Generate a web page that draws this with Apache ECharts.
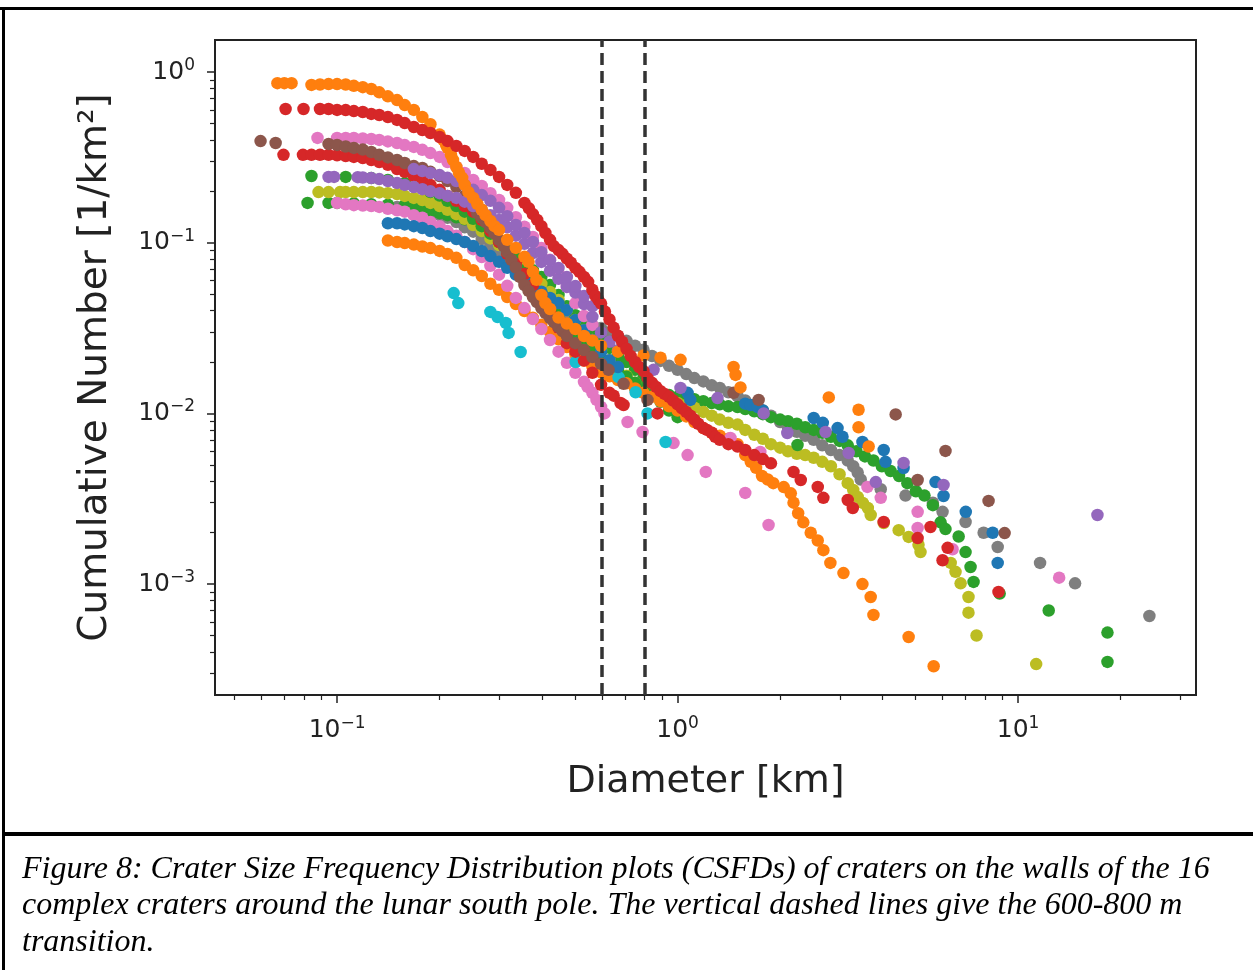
<!DOCTYPE html>
<html>
<head>
<meta charset="utf-8">
<script src="https://cdn.jsdelivr.net/npm/echarts@6/dist/echarts.min.js"></script>
<style>
  html, body { margin: 0; padding: 0; background: #fff; }
  #chart { width: 1253px; height: 970px; }
</style>
</head>
<body>
<div id="chart"></div>
<script>
// axis ranges and ticks (km, 1/km^2)
const xMin = 0.0438, xMax = 33.3;
const yMin = 0.000224, yMax = 1.54;
const xMajor = [0.1, 1, 10];
const xMinor = [0.05, 0.06, 0.07, 0.08, 0.09, 0.2, 0.3, 0.4, 0.5, 0.6, 0.7, 0.8, 0.9,
  2, 3, 4, 5, 6, 7, 8, 9, 20, 30];
const yMajor = [0.001, 0.01, 0.1, 1];
const yMinor = [0.0003, 0.0004, 0.0005, 0.0006, 0.0007, 0.0008, 0.0009,
  0.002, 0.003, 0.004, 0.005, 0.006, 0.007, 0.008, 0.009,
  0.02, 0.03, 0.04, 0.05, 0.06, 0.07, 0.08, 0.09,
  0.2, 0.3, 0.4, 0.5, 0.6, 0.7, 0.8, 0.9];
const transitionKm = [0.6, 0.8];

// CSFD points [diameter km, cumulative number 1/km^2]
const orangeA = [[0.0668,0.86],[0.0700,0.86],[0.0735,0.86],[0.0841,0.84],[0.0891,0.845],[0.0944,0.85],[0.100,0.85],[0.106,0.845],[0.112,0.83],[0.119,0.815],[0.126,0.795],[0.133,0.76],[0.141,0.72],[0.150,0.685],[0.158,0.64],[0.168,0.60],[0.178,0.545],[0.188,0.495],[0.200,0.43],[0.205,0.40],[0.209,0.373],[0.211,0.36],[0.216,0.327],[0.219,0.305],[0.224,0.278],[0.228,0.257],[0.233,0.24],[0.237,0.218],[0.243,0.198],[0.251,0.183],[0.258,0.169],[0.266,0.156],[0.273,0.145],[0.282,0.134],[0.290,0.125],[0.299,0.119],[0.316,0.104],[0.335,0.0932],[0.355,0.0826],[0.365,0.0773],[0.376,0.0675],[0.385,0.0606],[0.398,0.0494],[0.409,0.0443],[0.422,0.0409],[0.447,0.0364],[0.473,0.0336],[0.501,0.0312],[0.531,0.0284],[0.562,0.0267],[0.596,0.0249],[0.668,0.0230],[0.794,0.0218],[0.891,0.0212],[1.02,0.0206],[1.46,0.0187],[1.48,0.0168],[1.53,0.0142],[2.78,0.0124],[3.40,0.0105],[3.40,0.0083],[3.64,0.0064]];
const orangeB = [[0.141,0.103],[0.150,0.101],[0.158,0.0995],[0.168,0.0975],[0.178,0.095],[0.188,0.093],[0.200,0.0895],[0.211,0.086],[0.224,0.0815],[0.237,0.074],[0.251,0.069],[0.266,0.0638],[0.282,0.0575],[0.299,0.053],[0.316,0.0481],[0.335,0.0437],[0.355,0.0398],[0.376,0.0363],[0.398,0.0331],[0.422,0.030],[0.447,0.0272],[0.473,0.0245],[0.501,0.0221],[0.531,0.0204],[0.562,0.0189],[0.596,0.0174],[0.631,0.0165],[0.668,0.0157],[0.708,0.015],[0.750,0.014],[0.794,0.0132],[0.841,0.0125],[0.891,0.0118],[0.944,0.011],[1.00,0.0104],[1.06,0.0096],[1.12,0.0089],[1.19,0.0082],[1.26,0.0077],[1.33,0.0074],[1.41,0.0071],[1.50,0.0066],[1.58,0.0057],[1.64,0.0052],[1.70,0.0048],[1.77,0.0043],[1.84,0.0041],[1.91,0.0039],[2.05,0.0037],[2.15,0.0034],[2.19,0.0030],[2.26,0.0026],[2.34,0.0023],[2.46,0.0020],[2.58,0.0018],[2.68,0.00158],[2.81,0.00133],[3.07,0.00116],[3.49,0.0010],[3.69,0.00084],[3.76,0.00066],[4.77,0.00049],[5.65,0.00033]];
const redA = [[0.0706,0.607],[0.0797,0.607],[0.0891,0.607],[0.0944,0.607],[0.100,0.60],[0.106,0.598],[0.112,0.59],[0.119,0.583],[0.126,0.568],[0.133,0.56],[0.141,0.545],[0.150,0.524],[0.158,0.502],[0.168,0.476],[0.178,0.457],[0.188,0.439],[0.200,0.416],[0.211,0.394],[0.224,0.369],[0.237,0.345],[0.251,0.318],[0.266,0.29],[0.282,0.267],[0.299,0.243],[0.316,0.218],[0.335,0.196],[0.355,0.171],[0.366,0.159],[0.376,0.147],[0.387,0.136],[0.398,0.125],[0.409,0.114],[0.422,0.104],[0.433,0.0955],[0.447,0.0905],[0.459,0.0861],[0.473,0.0806],[0.486,0.0763],[0.501,0.0712],[0.515,0.0675],[0.531,0.063],[0.546,0.059],[0.562,0.053],[0.574,0.0487],[0.585,0.0463],[0.596,0.044],[0.612,0.0395],[0.631,0.0355],[0.649,0.0318],[0.668,0.0285],[0.687,0.0263],[0.708,0.0239],[0.728,0.0217],[0.750,0.020],[0.771,0.0187],[0.794,0.0177],[0.816,0.0161],[0.841,0.0151],[0.865,0.0143],[0.891,0.0135],[0.916,0.013],[0.944,0.0125],[0.970,0.0119],[1.00,0.0113],[1.03,0.0107],[1.06,0.0102],[1.09,0.0097],[1.12,0.0092],[1.15,0.0087],[1.19,0.0082],[1.22,0.008],[1.26,0.0077],[1.29,0.0073],[1.33,0.007],[1.41,0.0066],[1.50,0.0064],[1.58,0.0061],[1.68,0.0057],[1.78,0.0054],[1.88,0.0051],[2.19,0.00454],[2.30,0.00407],[2.68,0.0032],[3.27,0.00279],[4.03,0.00231],[5.07,0.00186],[6.00,0.00138],[8.76,0.0009]];
const redB = [[0.0696,0.327],[0.0794,0.327],[0.0841,0.327],[0.0891,0.327],[0.0944,0.327],[0.100,0.325],[0.106,0.322],[0.112,0.318],[0.119,0.313],[0.126,0.305],[0.133,0.297],[0.141,0.286],[0.150,0.27],[0.158,0.26],[0.168,0.246],[0.178,0.233],[0.188,0.218],[0.200,0.204],[0.211,0.188],[0.224,0.176],[0.237,0.164],[0.251,0.152],[0.266,0.136],[0.282,0.117],[0.299,0.101],[0.316,0.086],[0.335,0.075],[0.355,0.0656],[0.376,0.0565],[0.398,0.048],[0.422,0.0393],[0.447,0.0317],[0.473,0.0258],[0.501,0.023],[0.531,0.0204],[0.562,0.0173],[0.596,0.0147],[0.631,0.0132],[0.649,0.0127],[0.68,0.0115],[0.694,0.0112],[0.873,0.0100],[2.58,0.00371],[3.16,0.00311],[5.53,0.00216],[6.21,0.00163]];
const brownA = [[0.0596,0.394],[0.0660,0.384],[0.0944,0.379],[0.100,0.374],[0.106,0.366],[0.112,0.359],[0.119,0.351],[0.126,0.34],[0.133,0.327],[0.141,0.316],[0.150,0.305],[0.158,0.293],[0.168,0.281],[0.178,0.274],[0.188,0.26],[0.200,0.246],[0.211,0.23],[0.224,0.212],[0.237,0.188],[0.243,0.176],[0.251,0.162],[0.258,0.149],[0.266,0.14],[0.273,0.132],[0.282,0.122],[0.290,0.113],[0.299,0.104],[0.308,0.096],[0.316,0.088],[0.325,0.0793],[0.335,0.0716],[0.344,0.063],[0.355,0.0565],[0.365,0.0522],[0.376,0.0481],[0.386,0.0449],[0.398,0.0414],[0.409,0.0387],[0.422,0.0362],[0.433,0.0343],[0.447,0.0321],[0.459,0.0304],[0.473,0.0284],[0.501,0.0258],[0.531,0.0235],[0.562,0.0214],[0.596,0.0195],[0.627,0.018],[0.694,0.0149],[0.816,0.012],[1.46,0.0132],[1.73,0.012],[4.37,0.00986],[5.07,0.00407],[6.12,0.00603],[8.19,0.00307],[9.13,0.00199]];
const purpleA = [[0.0944,0.243],[0.098,0.243],[0.115,0.242],[0.119,0.241],[0.126,0.239],[0.133,0.236],[0.141,0.23],[0.150,0.224],[0.158,0.218],[0.168,0.212],[0.178,0.206],[0.188,0.2],[0.200,0.195],[0.211,0.188],[0.224,0.183],[0.237,0.174],[0.251,0.164],[0.266,0.156],[0.282,0.145],[0.299,0.136],[0.316,0.123],[0.335,0.110],[0.355,0.0985],[0.376,0.087],[0.398,0.0772],[0.422,0.0685],[0.447,0.0614],[0.473,0.0551],[0.501,0.051],[0.531,0.0437],[0.562,0.0368],[0.596,0.0298],[0.631,0.0263],[0.668,0.0234],[0.85,0.018],[1.02,0.0141],[1.31,0.0123],[1.79,0.0100],[2.10,0.00768],[2.72,0.00778],[3.18,0.00586],[3.82,0.00396],[4.61,0.00512],[6.04,0.00381],[17.1,0.00254]];
const purpleB = [[0.168,0.27],[0.178,0.263],[0.188,0.256],[0.200,0.249],[0.211,0.24],[0.224,0.23],[0.237,0.218],[0.251,0.204],[0.266,0.19],[0.282,0.176],[0.299,0.16],[0.316,0.143],[0.335,0.127],[0.355,0.114],[0.376,0.101],[0.398,0.088],[0.422,0.079],[0.447,0.0712],[0.473,0.063],[0.501,0.0558],[0.531,0.0487],[0.562,0.0425]];
const greenA = [[0.0841,0.246],[0.106,0.243],[0.126,0.239],[0.141,0.233],[0.158,0.224],[0.178,0.209],[0.188,0.198],[0.200,0.189],[0.211,0.176],[0.224,0.164],[0.237,0.152],[0.251,0.138],[0.266,0.125],[0.282,0.113],[0.299,0.101],[0.316,0.089],[0.335,0.0794],[0.355,0.069],[0.376,0.0589],[0.398,0.0507],[0.422,0.0443],[0.447,0.0377],[0.473,0.0325],[0.501,0.0284],[0.531,0.0255],[0.562,0.0232],[0.596,0.0211],[0.631,0.0192],[0.668,0.018],[0.708,0.0164],[0.750,0.0151],[0.794,0.0139],[0.841,0.0128],[0.891,0.0117],[0.944,0.0104],[1.00,0.0095],[2.25,0.00653]];
const greenB = [[0.0819,0.171],[0.0944,0.171],[0.100,0.171],[0.112,0.17],[0.126,0.168],[0.141,0.167],[0.158,0.166],[0.168,0.162],[0.178,0.157],[0.188,0.153],[0.200,0.149],[0.211,0.145],[0.224,0.141],[0.237,0.137],[0.251,0.131],[0.266,0.123],[0.282,0.114],[0.299,0.102],[0.316,0.0905],[0.335,0.0815],[0.355,0.075],[0.376,0.069],[0.398,0.063],[0.422,0.0565],[0.447,0.0494],[0.473,0.0425],[0.501,0.0376],[0.531,0.0334],[0.562,0.030],[0.596,0.0269],[0.631,0.0242],[0.668,0.0217],[0.708,0.020],[0.750,0.018],[0.794,0.0161],[0.841,0.0145],[0.891,0.0133],[0.944,0.0128],[1.00,0.0125],[1.06,0.0123],[1.12,0.0121],[1.19,0.0118],[1.26,0.0115],[1.33,0.0113],[1.41,0.011],[1.50,0.0109],[1.58,0.0106],[1.68,0.0103],[1.78,0.0099],[1.88,0.0095],[2.00,0.0092],[2.11,0.009],[2.24,0.0087],[2.37,0.0083],[2.51,0.008],[2.66,0.0077],[2.82,0.0073],[2.99,0.0069],[3.16,0.0065],[3.35,0.006],[3.55,0.0056],[3.76,0.0053],[3.98,0.0049],[4.22,0.0046],[4.47,0.0043],[4.73,0.0039],[5.01,0.0035],[5.31,0.0033],[5.62,0.0029],[5.92,0.0023],[6.12,0.0021],[6.69,0.0019],[7.01,0.00154],[7.25,0.00126],[7.40,0.00103],[8.83,0.00088],[12.3,0.0007],[18.3,0.00052],[18.3,0.00035]];
const olive = [[0.0882,0.198],[0.0944,0.198],[0.102,0.198],[0.106,0.198],[0.112,0.198],[0.119,0.198],[0.126,0.198],[0.133,0.197],[0.141,0.195],[0.150,0.193],[0.158,0.188],[0.168,0.183],[0.178,0.178],[0.188,0.171],[0.200,0.164],[0.211,0.156],[0.224,0.147],[0.237,0.138],[0.251,0.127],[0.266,0.117],[0.282,0.106],[0.299,0.097],[0.316,0.087],[0.335,0.0785],[0.355,0.0703],[0.376,0.063],[0.398,0.0573],[0.422,0.0514],[0.447,0.0462],[0.473,0.0403],[0.501,0.0352],[0.531,0.0307],[0.562,0.0269],[0.596,0.0235],[0.631,0.0205],[0.668,0.0184],[0.708,0.0166],[0.750,0.0151],[0.794,0.0139],[0.841,0.013],[0.891,0.0123],[0.944,0.0118],[1.00,0.0115],[1.06,0.0112],[1.12,0.0108],[1.19,0.0102],[1.26,0.0097],[1.33,0.0092],[1.41,0.0088],[1.50,0.0086],[1.58,0.008],[1.68,0.0075],[1.78,0.0071],[1.88,0.0066],[2.00,0.0063],[2.11,0.006],[2.24,0.0058],[2.37,0.0057],[2.51,0.0055],[2.66,0.0052],[2.82,0.0049],[2.99,0.0044],[3.16,0.0039],[3.28,0.00356],[3.38,0.00324],[3.50,0.00299],[3.62,0.00279],[3.69,0.00254],[4.03,0.00228],[4.46,0.00207],[4.77,0.00189],[5.10,0.0017],[5.17,0.00154],[6.34,0.00133],[6.55,0.00118],[6.78,0.00101],[7.15,0.00084],[7.15,0.00068],[7.55,0.0005],[11.3,0.00034]];
const gray = [[0.150,0.162],[0.158,0.16],[0.168,0.158],[0.178,0.153],[0.188,0.149],[0.200,0.145],[0.211,0.14],[0.224,0.132],[0.237,0.123],[0.251,0.116],[0.266,0.105],[0.282,0.0957],[0.299,0.0874],[0.316,0.0785],[0.335,0.0703],[0.355,0.0621],[0.376,0.0551],[0.398,0.0494],[0.422,0.0443],[0.447,0.0403],[0.473,0.0376],[0.501,0.0362],[0.531,0.0343],[0.562,0.0329],[0.596,0.0316],[0.631,0.0299],[0.668,0.0284],[0.708,0.0266],[0.750,0.0249],[0.794,0.0236],[0.841,0.0217],[0.891,0.0203],[0.944,0.019],[1.00,0.018],[1.06,0.017],[1.12,0.0161],[1.19,0.0154],[1.26,0.0146],[1.33,0.0141],[1.41,0.0133],[1.50,0.0126],[1.58,0.0119],[1.68,0.0112],[1.78,0.0104],[1.88,0.0097],[2.00,0.0089],[2.11,0.0082],[2.24,0.0078],[2.37,0.0074],[2.51,0.007],[2.66,0.0065],[2.82,0.0061],[2.99,0.0057],[3.16,0.0053],[3.28,0.0049],[3.38,0.0045],[3.45,0.0041],[3.95,0.0036],[4.67,0.0033],[5.62,0.003],[6.0,0.00265],[7.01,0.00231],[7.92,0.002],[8.71,0.00165],[11.6,0.00133],[14.7,0.00101],[24.3,0.00065]];
const blueA = [[0.141,0.13],[0.150,0.13],[0.158,0.128],[0.168,0.125],[0.178,0.122],[0.188,0.117],[0.200,0.113],[0.211,0.109],[0.224,0.105],[0.237,0.101],[0.251,0.0957],[0.266,0.0893],[0.282,0.0835],[0.299,0.0773],[0.316,0.0713],[0.335,0.065],[0.355,0.0597],[0.376,0.0551],[0.398,0.0516],[0.422,0.0475],[0.447,0.0443],[0.473,0.0403],[0.501,0.0352],[0.531,0.0307],[0.562,0.0269],[0.596,0.023],[0.631,0.0205],[0.668,0.0187],[1.07,0.0132],[1.09,0.012],[1.58,0.0114],[1.64,0.0112],[1.72,0.0109],[1.78,0.0104],[2.51,0.0094],[2.67,0.0088],[2.95,0.0082],[3.05,0.0073],[3.49,0.0068],[4.03,0.0061],[4.08,0.0052],[4.61,0.00479],[5.72,0.00396],[6.04,0.00328],[7.02,0.00265],[8.42,0.002],[8.71,0.00133]];
const pinkA = [[0.0876,0.411],[0.100,0.411],[0.106,0.411],[0.112,0.411],[0.119,0.408],[0.126,0.405],[0.133,0.40],[0.141,0.392],[0.150,0.384],[0.158,0.373],[0.168,0.364],[0.178,0.35],[0.188,0.335],[0.200,0.318],[0.211,0.297],[0.224,0.278],[0.237,0.256],[0.251,0.233],[0.266,0.215],[0.282,0.195],[0.299,0.178],[0.316,0.16],[0.335,0.141],[0.355,0.124],[0.376,0.108],[0.398,0.093],[0.422,0.0794],[0.447,0.0664],[0.473,0.0551],[0.501,0.0443],[0.531,0.0372],[0.562,0.033]];
const pinkB = [[0.100,0.171],[0.106,0.168],[0.112,0.166],[0.119,0.165],[0.126,0.164],[0.133,0.162],[0.141,0.158],[0.150,0.155],[0.158,0.152],[0.168,0.145],[0.178,0.14],[0.188,0.132],[0.200,0.125],[0.211,0.117],[0.224,0.11],[0.237,0.101],[0.251,0.0917],[0.266,0.0825],[0.282,0.0732],[0.299,0.065],[0.316,0.0559],[0.335,0.0475],[0.355,0.0414],[0.376,0.0357],[0.398,0.0312],[0.422,0.0269],[0.447,0.023],[0.473,0.0198],[0.501,0.0173],[0.531,0.0153],[0.544,0.0143],[0.562,0.0132],[0.578,0.012],[0.596,0.0109],[0.61,0.0100],[0.713,0.0089],[0.789,0.00778],[0.973,0.0067],[1.07,0.0057],[1.21,0.00454],[1.43,0.00718],[1.58,0.00342],[1.75,0.00594],[1.85,0.00222],[3.61,0.00371],[3.95,0.0032],[5.07,0.00265],[5.07,0.00213],[6.42,0.0016],[13.2,0.00109]];
const cyan = [[0.22,0.0507],[0.227,0.0443],[0.282,0.0393],[0.296,0.0367],[0.313,0.0339],[0.319,0.0296],[0.346,0.0229],[0.502,0.02],[0.671,0.0163],[0.753,0.0133],[0.816,0.01],[0.922,0.0068]];

const captionLines = [
  'Figure 8: Crater Size Frequency Distribution plots (CSFDs) of craters on the walls of the 16',
  'complex craters around the lunar south pole. The vertical dashed lines give the 600-800 m',
  'transition.'
];

const font = '"DejaVu Sans", sans-serif';
const ink = '#222';

// 10^n labels, exponent raised
function powLabel(value) {
  const e = Math.round(Math.log10(value));
  const sup = e < 0 ? '\u2212' + Math.abs(e) : String(e);
  return '{b|10}{s|' + sup + '}';
}
const labelRich = {
  b: { fontSize: 25, fontFamily: font, color: ink, lineHeight: 30 },
  s: { fontSize: 17, fontFamily: font, color: ink, lineHeight: 14, verticalAlign: 'top' }
};

// drawing order bottom -> top
const layers = [
  [gray, '#7f7f7f'], [greenB, '#2ca02c'], [olive, '#bcbd22'], [greenA, '#2ca02c'],
  [orangeB, '#ff7f0e'], [pinkB, '#e377c2'], [cyan, '#17becf'], [blueA, '#1f77b4'],
  [redB, '#d62728'], [pinkA, '#e377c2'], [brownA, '#8c564b'], [purpleA, '#9467bd'],
  [purpleB, '#9467bd'], [orangeA, '#ff7f0e'], [redA, '#d62728']
];

const series = layers.map(([pts, color]) => ({
  type: 'scatter',
  data: pts,
  symbol: 'circle',
  symbolSize: 12.5,
  silent: true,
  z: 2,
  itemStyle: { color: color, opacity: 1 }
}));

// vertical dashed lines for the 600-800 m transition
series.push({
  type: 'scatter',
  data: [],
  z: 5,
  silent: true,
  markLine: {
    silent: true,
    symbol: ['none', 'none'],
    label: { show: false },
    lineStyle: { type: [12, 6], color: '#333', width: 3.5 },
    data: transitionKm.map(v => ({ xAxis: v }))
  }
});

const chart = echarts.init(document.getElementById('chart'), null, { renderer: 'canvas' });
chart.setOption({
  animation: false,
  backgroundColor: '#fff',
  grid: {
    left: 215, top: 40, width: 981, height: 655,
    show: true, borderColor: ink, borderWidth: 2, backgroundColor: 'transparent'
  },
  xAxis: [
    {
      type: 'log', logBase: 10, min: xMin, max: xMax,
      name: 'Diameter [km]', nameLocation: 'middle', nameGap: 68,
      nameTextStyle: { fontSize: 38, fontFamily: font, color: ink },
      axisLine: { show: false }, splitLine: { show: false },
      axisTick: { show: true, customValues: xMajor, length: 8, lineStyle: { color: ink, width: 1.5 } },
      axisLabel: { customValues: xMajor, formatter: powLabel, rich: labelRich, margin: 20 }
    },
    {
      type: 'log', logBase: 10, min: xMin, max: xMax, position: 'bottom',
      axisLine: { show: false }, splitLine: { show: false }, axisLabel: { show: false },
      axisTick: { show: true, customValues: xMinor, length: 5, lineStyle: { color: ink, width: 1.2 } }
    }
  ],
  yAxis: [
    {
      type: 'log', logBase: 10, min: yMin, max: yMax,
      name: 'Cumulative Number [1/km\u00b2]', nameLocation: 'middle', nameGap: 100,
      nameTextStyle: { fontSize: 39, fontFamily: font, color: ink },
      axisLine: { show: false }, splitLine: { show: false },
      axisTick: { show: true, customValues: yMajor, length: 8, lineStyle: { color: ink, width: 1.5 } },
      axisLabel: { customValues: yMajor, formatter: powLabel, rich: labelRich, margin: 20 }
    },
    {
      type: 'log', logBase: 10, min: yMin, max: yMax, position: 'left',
      axisLine: { show: false }, splitLine: { show: false }, axisLabel: { show: false },
      axisTick: { show: true, customValues: yMinor, length: 5, lineStyle: { color: ink, width: 1.2 } }
    }
  ],
  series: series,
  graphic: [
    { type: 'rect', shape: { x: 0, y: 7, width: 1253, height: 3 }, style: { fill: '#000' } },
    { type: 'rect', shape: { x: 2, y: 7, width: 3, height: 963 }, style: { fill: '#000' } },
    { type: 'rect', shape: { x: 2, y: 832, width: 1251, height: 4 }, style: { fill: '#000' } },
    {
      type: 'text', x: 22, y: 851,
      style: {
        text: captionLines.join('\n'),
        font: 'italic 32px "Liberation Serif", serif',
        lineHeight: 36.5,
        fill: '#000'
      }
    }
  ]
});

window.addEventListener('resize', () => chart.resize());
</script>
</body>
</html>
